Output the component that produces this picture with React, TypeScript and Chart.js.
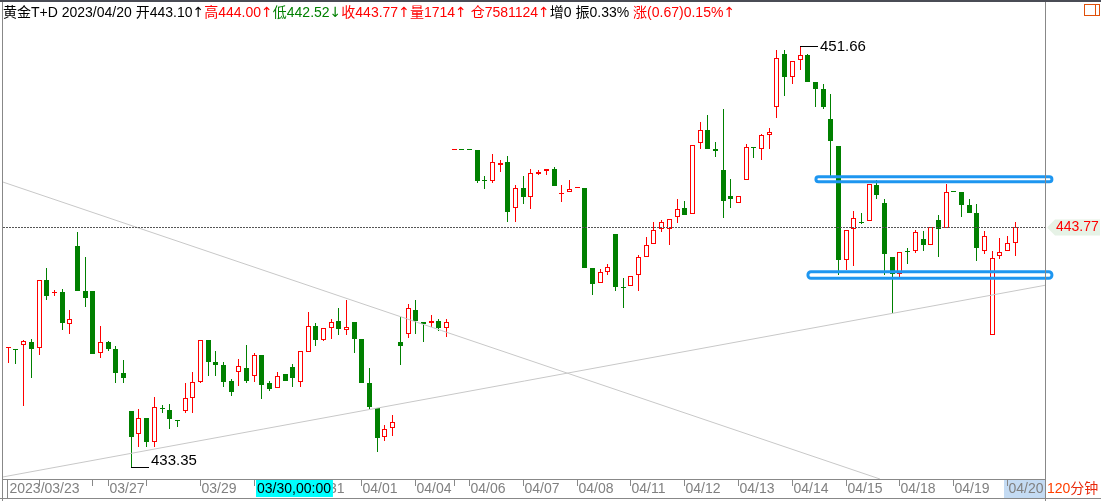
import React, { useEffect, useRef } from 'react';
import { Chart, registerables } from 'chart.js';

Chart.register(...registerables);

// ---- candle data (120-minute bars, 黄金T+D) ----
const openP = [
  438.51, 438.47, 438.64, 438.77, 438.51, 441.47, 440.92, 440.96, 439.58, 442.96,
  441.00, 441.00, 438.29, 438.78, 438.48, 437.44, 435.78, 434.77, 435.47, 434.46,
  435.90, 435.81, 435.39, 435.79, 436.34, 437.06, 438.86, 437.91, 437.78, 437.09,
  437.47, 437.65, 437.29, 438.22, 436.99, 436.77, 437.38, 437.68, 437.03, 438.34,
  439.48, 438.89, 439.41, 439.70, 439.29, 439.65, 438.91, 437.00, 435.93, 434.64,
  435.03, 438.78, 439.12, 440.18, 439.65, 439.60, 439.69, 439.41, 447.12, 447.12,
  447.12, 447.12, 445.83, 445.80, 446.50, 446.60, 444.60, 445.47, 445.10, 446.10,
  446.21, 446.30, 445.24, 445.30, 445.47, 445.47, 442.00, 441.34, 441.85, 443.48,
  441.18, 441.20, 441.69, 442.50, 443.03, 443.69, 443.69, 444.21, 444.60, 444.34,
  447.43, 448.00, 447.17, 446.27, 445.12, 444.82, 445.82, 447.25, 447.19, 447.80,
  449.02, 451.31, 450.32, 451.04, 451.27, 450.09, 449.78, 448.48, 447.31, 442.37,
  443.69, 444.00, 444.03, 445.61, 444.82, 442.47, 441.73, 442.71, 442.73, 443.27,
  443.02, 444.08, 443.73, 445.30, 445.31, 444.74, 444.40, 442.73, 439.07, 442.51,
  442.73, 443.10,
];
const highP = [
  438.58, 438.47, 438.87, 438.91, 441.47, 441.99, 441.03, 441.08, 440.18, 443.57,
  442.50, 441.00, 439.48, 438.84, 438.61, 438.00, 435.78, 435.86, 435.47, 436.39,
  436.04, 436.10, 435.39, 436.99, 437.48, 438.86, 438.86, 438.39, 437.91, 437.19,
  438.03, 438.65, 438.31, 438.22, 437.09, 437.47, 437.38, 437.83, 438.38, 440.09,
  439.62, 439.38, 439.79, 440.28, 440.61, 439.65, 438.91, 437.65, 435.93, 435.16,
  435.61, 439.86, 440.44, 440.61, 439.65, 439.96, 439.79, 439.79, 447.12, 447.12,
  447.12, 447.12, 446.00, 446.96, 446.70, 446.87, 445.61, 446.00, 446.30, 446.27,
  446.30, 446.40, 445.61, 445.83, 445.47, 445.47, 442.00, 441.95, 442.18, 443.48,
  441.57, 441.64, 442.56, 443.35, 444.00, 444.09, 444.12, 445.00, 444.92, 447.34,
  448.37, 448.66, 447.48, 448.92, 445.87, 445.12, 447.40, 447.25, 447.83, 448.09,
  451.49, 451.49, 450.99, 451.66, 451.31, 450.09, 449.99, 449.57, 447.31, 443.65,
  444.48, 444.41, 445.66, 445.83, 445.00, 442.47, 442.69, 442.86, 443.66, 443.61,
  443.77, 444.30, 445.66, 445.30, 445.31, 444.99, 444.80, 443.61, 442.74, 443.31,
  443.39, 444.00,
];
const lowP = [
  437.88, 437.83, 436.01, 437.23, 438.23, 440.60, 440.80, 439.32, 439.15, 441.02,
  440.32, 438.28, 438.10, 438.40, 437.01, 437.01, 433.35, 434.23, 434.23, 434.23,
  435.71, 435.01, 435.07, 435.71, 435.71, 437.00, 437.32, 437.29, 436.84, 436.45,
  436.88, 437.01, 437.03, 436.32, 436.64, 436.77, 437.10, 436.83, 436.84, 438.34,
  438.61, 438.83, 438.91, 439.10, 439.09, 438.32, 437.01, 435.83, 434.00, 434.49,
  434.71, 437.80, 438.97, 439.15, 438.80, 439.45, 439.28, 439.02, 447.12, 447.12,
  447.12, 445.71, 445.45, 445.71, 446.19, 444.02, 444.02, 444.80, 444.58, 446.04,
  446.04, 445.58, 444.89, 445.30, 445.47, 442.02, 440.84, 441.34, 441.72, 441.01,
  440.28, 441.20, 441.01, 442.50, 443.03, 443.58, 443.02, 443.97, 444.32, 444.34,
  447.19, 447.19, 446.82, 444.19, 444.63, 444.82, 445.82, 446.80, 446.69, 447.19,
  448.54, 449.50, 450.02, 450.61, 450.09, 449.02, 448.93, 445.97, 441.71, 441.92,
  442.09, 443.92, 444.03, 445.02, 441.70, 440.03, 441.58, 442.16, 442.67, 442.76,
  442.99, 442.48, 443.73, 445.30, 444.22, 444.40, 442.31, 442.63, 439.07, 442.41,
  442.73, 442.52,
];
const closeP = [
  438.58, 438.42, 438.83, 438.49, 441.47, 440.80, 440.97, 439.62, 439.78, 441.02,
  440.71, 438.28, 438.77, 438.49, 437.45, 437.23, 434.65, 435.47, 434.45, 435.94,
  435.86, 435.45, 435.36, 436.34, 437.03, 438.86, 437.93, 437.80, 437.06, 436.62,
  437.73, 437.09, 438.21, 436.93, 436.74, 437.32, 437.10, 437.23, 438.38, 439.47,
  438.87, 439.38, 439.64, 439.35, 439.42, 438.93, 437.01, 435.97, 434.62, 435.00,
  435.30, 438.62, 440.26, 439.69, 439.58, 439.69, 439.41, 439.64, 447.12, 447.12,
  447.12, 445.79, 445.80, 446.60, 446.57, 444.45, 445.47, 445.10, 446.12, 446.18,
  446.30, 445.58, 445.27, 445.43, 445.47, 442.02, 441.32, 441.82, 442.05, 441.19,
  441.15, 441.64, 442.47, 442.99, 443.64, 443.99, 444.12, 444.56, 444.32, 447.34,
  447.99, 447.19, 447.08, 444.93, 445.02, 445.12, 447.25, 447.21, 447.78, 447.91,
  451.12, 450.32, 450.99, 451.27, 450.09, 449.80, 449.02, 447.54, 442.37, 443.65,
  444.16, 443.97, 445.66, 445.19, 442.63, 441.73, 442.69, 442.69, 443.56, 443.00,
  443.77, 443.71, 445.30, 445.30, 444.76, 444.40, 442.87, 443.38, 442.42, 442.69,
  443.08, 443.77,
];

// ---- x-axis (date boundaries, bar index) ----
const tickIndex = [0, 4, 11, 13, 18, 25, 32, 39, 46, 53, 58, 60, 67, 74, 81, 88, 95, 102, 109, 116, 123, 130];
const tickLabel = ['2023/03/23', '', '', '03/27', '', '03/29', '03/30', '03/31', '04/01', '04/04', '', '04/06',
  '04/07', '04/08', '04/11', '04/12', '04/13', '04/14', '04/15', '04/18', '04/19', '04/20'];
const cursorIndex = 32;
const cursorLabel = '03/30,00:00';
const currentIndex = 130;

// ---- drawn objects (bar index, price) ----
const trendDown = [{ x: -0.69, y: 445.74 }, { x: 113.4, y: 432.83 }];
const trendUp = [{ x: -0.69, y: 432.92 }, { x: 135.0, y: 441.26 }];
const boxUpper = { x0: 105.07, x1: 135.77, p0: 445.975, p1: 445.758 };
const boxLower = { x0: 104.03, x1: 135.77, p0: 441.843, p1: 441.556 };

// ---- header text ----
const titleParts: [string, string][] = [
  ['黄金T+D 2023/04/20 开443.10', '#000000'], ['↑', '#000000'],
  ['高444.00', '#ff0000'], ['↑', '#ff0000'],
  ['低442.52', '#008000'], ['↓', '#008000'],
  ['收443.77', '#ff0000'], ['↑', '#ff0000'],
  ['量1714', '#ff0000'], ['↑', '#ff0000'],
  [' 仓7581124', '#ff0000'], ['↑', '#ff0000'],
  ['增0 振0.33% ', '#000000'],
  ['涨(0.67)0.15%', '#ff0000'], ['↑', '#ff0000'],
];
const periodNum = '120';
const periodUnit = '分钟';

const RED = '#ff0000';
const GREEN = '#008000';
const GRAY = '#888888';
const FONT14 = '14px "Liberation Sans", Arial, "Noto Sans CJK SC", sans-serif';
const FONT15 = '15px "Liberation Sans", Arial, sans-serif';
const ARROW_FONT = '14px "DejaVu Sans", sans-serif';

export default function App() {
  const ref = useRef<HTMLCanvasElement>(null);

  useEffect(() => {
    const canvas = ref.current;
    if (!canvas) return;
    const n = closeP.length;
    const idx = closeP.map((_, i) => i);
    const isUp = (i: number) =>
      closeP[i] > openP[i] || (closeP[i] === openP[i] && i > 0 && closeP[i] > closeP[i - 1]);
    const colorOf = (i: number) => (isUp(i) ? RED : GREEN);

    const snapPlugin = {
      id: 'snap',
      beforeDatasetsDraw(chart: any) {
        chart.data.datasets.forEach((_: any, di: number) => {
          const meta = chart.getDatasetMeta(di);
          if (meta.type !== 'bar') return;
          meta.data.forEach((el: any) => {
            el.x = Math.floor(el.x) + 0.5;
            const y = Math.round(el.y);
            let b = Math.round(el.base);
            if (b === y) b = y + 1;
            el.y = y;
            el.base = b;
          });
        });
      },
    };

    const decorPlugin = {
      id: 'decor',
      afterDraw(chart: any) {
        const ctx: CanvasRenderingContext2D = chart.ctx;
        const ca = chart.chartArea;
        const xs = chart.scales.x;
        const ys = chart.scales.y;
        ctx.save();

        // dotted last-close line
        const lastC = closeP[n - 1];
        const yc = Math.floor(ys.getPixelForValue(lastC)) + 0.5;
        ctx.strokeStyle = '#555555';
        ctx.lineWidth = 1;
        ctx.setLineDash([2, 1]);
        ctx.beginPath();
        ctx.moveTo(ca.left, yc);
        ctx.lineTo(ca.right, yc);
        ctx.stroke();
        ctx.setLineDash([]);

        // blue boxes
        ctx.strokeStyle = '#1e96f0';
        ctx.lineWidth = 3;
        [boxUpper, boxLower].forEach((b) => {
          const x0 = xs.getPixelForValue(b.x0);
          const x1 = xs.getPixelForValue(b.x1);
          const y0 = ys.getPixelForValue(b.p0);
          const y1 = ys.getPixelForValue(b.p1);
          ctx.beginPath();
          (ctx as any).roundRect(x0, y0, x1 - x0, y1 - y0, 3);
          ctx.stroke();
        });

        // max / min labels
        let hi = 0;
        let lo = 0;
        for (let i = 0; i < n; i++) {
          if (highP[i] > highP[hi]) hi = i;
          if (lowP[i] < lowP[lo]) lo = i;
        }
        ctx.fillStyle = '#000000';
        ctx.font = FONT15;
        const hx = Math.floor(xs.getPixelForValue(hi));
        const hy = Math.round(ys.getPixelForValue(highP[hi]));
        ctx.fillRect(hx, hy, 18, 1);
        ctx.textBaseline = 'middle';
        ctx.fillText(highP[hi].toFixed(2), hx + 20, hy + 1);
        const lx = Math.floor(xs.getPixelForValue(lo));
        const ly = Math.round(ys.getPixelForValue(lowP[lo]));
        ctx.fillRect(lx, ly, 18, 1);
        ctx.textBaseline = 'alphabetic';
        ctx.fillText(lowP[lo].toFixed(2), lx + 20, ly - 2);

        // right price tag
        const W = chart.width;
        ctx.fillStyle = '#e6f2e6';
        ctx.beginPath();
        ctx.moveTo(ca.right + 1, yc);
        ctx.lineTo(ca.right + 9, yc - 8);
        ctx.lineTo(W - 1, yc - 8);
        ctx.lineTo(W - 1, yc + 8);
        ctx.lineTo(ca.right + 9, yc + 8);
        ctx.closePath();
        ctx.fill();
        ctx.fillStyle = RED;
        ctx.font = FONT14;
        ctx.textBaseline = 'middle';
        ctx.fillText(lastC.toFixed(2), ca.right + 10, yc);

        // frame
        ctx.fillStyle = '#4a4c55';
        ctx.fillRect(0, 0, W, 2);
        ctx.fillStyle = GRAY;
        ctx.fillRect(ca.left - 1, 2, 1, chart.height - 2);
        ctx.fillRect(ca.right - 1, 2, 1, chart.height - 2);
        const axTop = Math.round(ca.bottom);
        const axBot = axTop + 19;
        ctx.fillRect(ca.left - 1, axTop, ca.right - ca.left, 1);
        ctx.fillRect(0, axBot, W, 1);

        // current-bar highlight in the axis
        const tx = (i: number) => Math.floor(xs.getPixelForValue(i)) + 0.5;
        const cx = tx(currentIndex);
        ctx.fillStyle = '#c4dbf3';
        ctx.fillRect(cx - 3.5, axTop + 1, ca.right - 1 - (cx - 3.5), axBot - axTop - 1);

        // ticks + labels
        ctx.font = FONT14;
        ctx.textBaseline = 'middle';
        ctx.textAlign = 'left';
        tickIndex.forEach((ti, k) => {
          const x = tx(ti);
          ctx.fillStyle = GRAY;
          if (k === 0) ctx.fillRect(x - 1.5, axTop, 1, axBot - axTop);
          else ctx.fillRect(x - 0.5, axTop + 1, 1, 6);
          if (tickLabel[k]) {
            ctx.fillStyle = '#808080';
            ctx.fillText(tickLabel[k], x + 1, axTop + 10);
          }
        });

        // cursor label box
        const qx = tx(cursorIndex) + 1.5;
        const qw = ctx.measureText(cursorLabel).width + 3;
        ctx.fillStyle = '#00ffff';
        ctx.fillRect(qx, axTop + 1, qw, axBot - axTop - 2);
        ctx.fillStyle = '#000000';
        ctx.fillText(cursorLabel, qx + 1, axTop + 10);

        // period label
        ctx.fillStyle = '#ff4000';
        ctx.fillText(periodNum, ca.right + 1, axTop + 10);
        const pw = ctx.measureText(periodNum).width;
        ctx.fillStyle = '#e8280a';
        ctx.fillText(periodUnit, ca.right + 1 + pw, axTop + 10);

        // header
        ctx.textBaseline = 'alphabetic';
        let x = 3;
        titleParts.forEach(([t, c]) => {
          ctx.font = t === '↑' || t === '↓' ? ARROW_FONT : FONT14;
          ctx.fillStyle = c;
          ctx.fillText(t, x, 17);
          x += ctx.measureText(t).width;
        });

        // window icon
        ctx.strokeStyle = '#e0500a';
        ctx.lineWidth = 1;
        ctx.strokeRect(1084.5, 4.5, 15, 11);
        ctx.beginPath();
        ctx.moveTo(1095.5, 4.5);
        ctx.lineTo(1095.5, 15.5);
        ctx.stroke();

        ctx.restore();
      },
    };

    const chart = new Chart(canvas, {
      type: 'bar',
      data: {
        datasets: [
          {
            type: 'line',
            label: 'trendDown',
            data: trendDown,
            borderColor: '#c8c8c8',
            borderWidth: 1,
            pointRadius: 0,
            order: 0,
          } as any,
          {
            type: 'line',
            label: 'trendUp',
            data: trendUp,
            borderColor: '#c8c8c8',
            borderWidth: 1,
            pointRadius: 0,
            order: 0,
          } as any,
          {
            type: 'bar',
            label: 'body',
            data: idx.map((i) => ({ x: i, y: [openP[i], closeP[i]] })),
            backgroundColor: idx.map((i) => (isUp(i) ? '#ffffff' : GREEN)),
            borderColor: idx.map(colorOf),
            borderWidth: 1,
            borderSkipped: false,
            barThickness: 5,
            grouped: false,
            minBarLength: 1,
            inflateAmount: 0,
            order: 1,
          } as any,
          {
            type: 'bar',
            label: 'wick',
            data: idx.map((i) => ({ x: i, y: [lowP[i], highP[i]] })),
            backgroundColor: idx.map(colorOf),
            borderWidth: 0,
            barThickness: 1,
            grouped: false,
            minBarLength: 1,
            inflateAmount: 0,
            order: 2,
          } as any,
        ],
      },
      options: {
        responsive: false,
        maintainAspectRatio: false,
        animation: false,
        devicePixelRatio: 1,
        events: [],
        layout: { padding: { left: 3, right: 55, top: 25, bottom: 22 } },
        plugins: { legend: { display: false }, tooltip: { enabled: false } },
        scales: {
          x: { type: 'linear', display: false, min: -0.69, max: 135.0, offset: false, bounds: 'data' },
          y: { type: 'linear', display: false, min: 432.83, max: 452.57, bounds: 'data' },
        },
      } as any,
      plugins: [snapPlugin, decorPlugin],
    });

    return () => chart.destroy();
  }, []);

  return (
    <div style={{ position: 'absolute', left: 0, top: 0, width: 1101, height: 501, background: '#ffffff' }}>
      <canvas ref={ref} width={1101} height={501} style={{ display: 'block' }} />
    </div>
  );
}
